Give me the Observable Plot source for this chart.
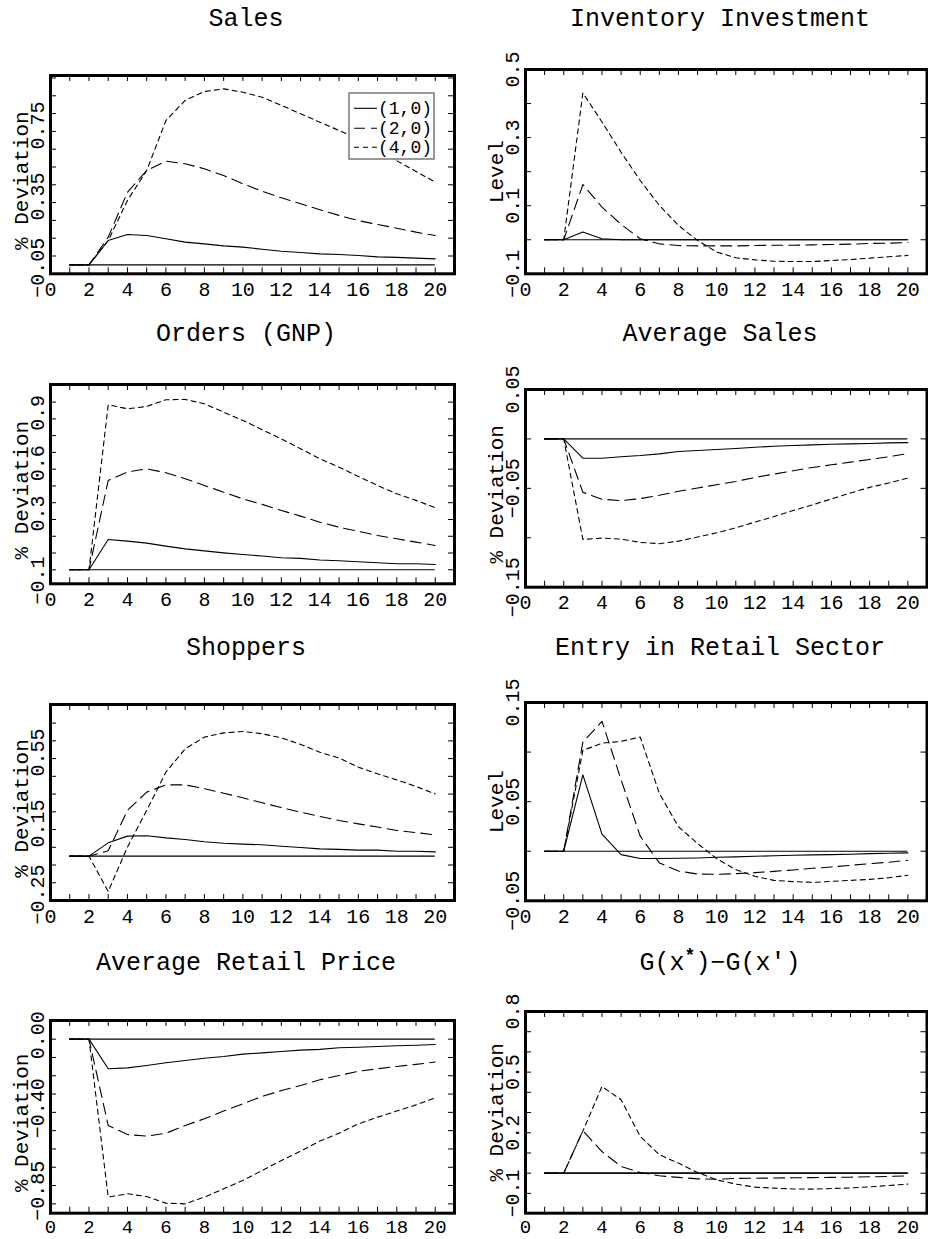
<!DOCTYPE html>
<html><head><meta charset="utf-8">
<script src="https://cdn.jsdelivr.net/npm/d3@7"></script>
<script src="https://cdn.jsdelivr.net/npm/@observablehq/plot@0.6"></script>
<style>
html,body{margin:0;padding:0;background:#fff;}
#wrap{position:relative;width:928px;height:1239px;overflow:hidden;}
.panel{position:absolute;}
.panel svg{overflow:visible;}
#overlay{position:absolute;left:0;top:0;pointer-events:none;overflow:visible;}
</style></head><body><div id="wrap"></div>
<script>
// ---------- data ----------
const periods = [1,2,3,4,5,6,7,8,9,10,11,12,13,14,15,16,17,18,19,20];
const seriesNames = ["(1,0)", "(2,0)", "(4,0)"];

const sales_1_0 = [0,0,0.137,0.171,0.165,0.147,0.128,0.118,0.107,0.100,0.088,0.077,0.070,0.062,0.058,0.053,0.045,0.042,0.038,0.034];
const sales_2_0 = [0,0,0.156,0.408,0.530,0.583,0.568,0.540,0.502,0.456,0.414,0.377,0.343,0.310,0.278,0.249,0.227,0.206,0.184,0.165];
const sales_4_0 = [0,0,0.137,0.362,0.530,0.811,0.924,0.974,0.989,0.970,0.942,0.896,0.849,0.802,0.755,0.705,0.645,0.585,0.525,0.465];

const inv_1_0 = [0,0,0.023,0.003,0,0,0,0,0,0,0,0,0,0,0,0,0,0,0,0];
const inv_2_0 = [0,0,0.162,0.096,0.045,0.003,-0.012,-0.017,-0.018,-0.018,-0.018,-0.017,-0.016,-0.016,-0.015,-0.014,-0.013,-0.011,-0.010,-0.008];
const inv_4_0 = [0,0,0.431,0.346,0.257,0.174,0.101,0.042,-0.002,-0.036,-0.053,-0.059,-0.063,-0.064,-0.064,-0.061,-0.058,-0.054,-0.050,-0.046];

const orders_1_0 = [0,0,0.181,0.171,0.159,0.141,0.125,0.113,0.101,0.091,0.082,0.072,0.068,0.058,0.054,0.048,0.042,0.036,0.036,0.032];
const orders_2_0 = [0,0,0.533,0.583,0.602,0.579,0.543,0.503,0.463,0.423,0.390,0.354,0.320,0.284,0.254,0.229,0.205,0.185,0.165,0.145];
const orders_4_0 = [0,0,0.984,0.960,0.974,1.014,1.016,0.990,0.940,0.891,0.835,0.781,0.722,0.662,0.612,0.557,0.503,0.453,0.414,0.370];

const avgsales_1_0 = [0,0,-0.0195,-0.0195,-0.018,-0.0168,-0.0151,-0.0128,-0.0117,-0.0107,-0.0097,-0.0084,-0.0074,-0.0067,-0.006,-0.0054,-0.005,-0.0047,-0.004,-0.0037];
const avgsales_2_0 = [0,0,-0.054,-0.061,-0.0624,-0.0604,-0.057,-0.053,-0.0497,-0.0463,-0.043,-0.039,-0.0356,-0.0322,-0.0289,-0.0262,-0.0235,-0.0208,-0.0181,-0.0148];
const avgsales_4_0 = [0,0,-0.1017,-0.1003,-0.1013,-0.1047,-0.106,-0.1034,-0.0993,-0.095,-0.0899,-0.0842,-0.0785,-0.0725,-0.0668,-0.0607,-0.0547,-0.049,-0.0446,-0.0396];

const shoppers_1_0 = [0,0,0.075,0.113,0.115,0.103,0.094,0.081,0.073,0.068,0.064,0.056,0.049,0.041,0.038,0.034,0.034,0.028,0.028,0.024];
const shoppers_2_0 = [0,0,0.030,0.258,0.361,0.402,0.402,0.380,0.355,0.329,0.301,0.274,0.248,0.224,0.201,0.182,0.164,0.145,0.133,0.120];
const shoppers_4_0 = [0,0,-0.199,0.051,0.258,0.474,0.605,0.671,0.695,0.703,0.690,0.667,0.630,0.586,0.553,0.502,0.464,0.430,0.393,0.351];

const entry_1_0 = [0,0,0.077,0.0172,-0.0034,-0.0074,-0.0074,-0.0071,-0.0068,-0.0061,-0.0057,-0.0051,-0.0046,-0.004,-0.0037,-0.0034,-0.003,-0.0024,-0.002,-0.0017];
const entry_2_0 = [0,0,0.110,0.131,0.072,0.0152,-0.0118,-0.020,-0.023,-0.0233,-0.0226,-0.0216,-0.0203,-0.0189,-0.0172,-0.0159,-0.0142,-0.0125,-0.0111,-0.0091];
const entry_4_0 = [0,0,0.1017,0.109,0.1108,0.1152,0.0584,0.0247,0.0078,-0.0074,-0.0186,-0.0253,-0.0294,-0.0307,-0.0314,-0.0304,-0.0294,-0.0284,-0.0267,-0.0243];

const price_1_0 = [0,0,-0.162,-0.157,-0.144,-0.129,-0.117,-0.104,-0.095,-0.082,-0.075,-0.067,-0.060,-0.056,-0.047,-0.044,-0.040,-0.036,-0.033,-0.029];
const price_2_0 = [0,0,-0.472,-0.521,-0.530,-0.514,-0.472,-0.435,-0.393,-0.353,-0.313,-0.281,-0.253,-0.222,-0.199,-0.175,-0.162,-0.149,-0.138,-0.125];
const price_4_0 = [0,0,-0.863,-0.845,-0.860,-0.896,-0.900,-0.863,-0.818,-0.772,-0.718,-0.663,-0.612,-0.557,-0.514,-0.463,-0.426,-0.393,-0.359,-0.321];

const g_1_0 = [0,0,0,0,0,0,0,0,0,0,0,0,0,0,0,0,0,0,0,0];
const g_2_0 = [0,0,0.210,0.107,0.033,0.003,-0.013,-0.021,-0.028,-0.030,-0.026,-0.025,-0.024,-0.023,-0.022,-0.021,-0.020,-0.018,-0.016,-0.013];
const g_4_0 = [0,0,0.208,0.429,0.363,0.182,0.091,0.050,0.003,-0.033,-0.054,-0.069,-0.074,-0.078,-0.079,-0.076,-0.073,-0.068,-0.061,-0.054];

// axes
const xDomain = [0, 21];
const xMinorTicks = [1,2,3,4,5,6,7,8,9,10,11,12,13,14,15,16,17,18,19,20];
const xLabelVals = [0,2,4,6,8,10,12,14,16,18,20];
const xLabelTexts = ["0","2","4","6","8","10","12","14","16","18","20"];

const salesTicks = [-0.05,0.05,0.15,0.25,0.35,0.45,0.55,0.65,0.75,0.85,0.95,1.05];
const salesLabelVals = [-0.05,0.35,0.75];
const salesLabelTexts = ["−0.05","0.35","0.75"];

const invTicks = [0,0.1,0.2,0.3,0.4];
const invLabelVals = [-0.1,0.1,0.3,0.5];
const invLabelTexts = ["−0.1","0.1","0.3","0.5"];

const ordersTicks = [0,0.1,0.2,0.3,0.4,0.5,0.6,0.7,0.8,0.9,1.0];
const ordersLabelVals = [-0.1,0.3,0.6,0.9];
const ordersLabelTexts = ["−0.1","0.3","0.6","0.9"];

const avgsalesTicks = [-0.1,-0.05,0];
const avgsalesLabelVals = [-0.15,-0.05,0.05];
const avgsalesLabelTexts = ["−0.15","−0.05","0.05"];

const shoppersTicks = [-0.15,-0.05,0.05,0.15,0.25,0.35,0.45,0.55,0.65,0.75];
const shoppersLabelVals = [-0.25,0.15,0.55];
const shoppersLabelTexts = ["−0.25","0.15","0.55"];

const entryTicks = [0,0.05,0.1];
const entryLabelVals = [-0.05,0.05,0.15];
const entryLabelTexts = ["−0.05","0.05","0.15"];

const priceTicks = [0,-0.1,-0.2,-0.3,-0.4,-0.5,-0.6,-0.7,-0.8,-0.9];
const priceLabelVals = [-0.85,-0.40,0.00];
const priceLabelTexts = ["−0.85","−0.40","0.00"];

const gTicks = [-0.1,0,0.1,0.2,0.3,0.4,0.5,0.6,0.7];
const gLabelVals = [-0.1,0.2,0.5,0.8];
const gLabelTexts = ["−0.1","0.2","0.5","0.8"];

// ---------- layout / style ----------
const FONT = "Liberation Mono, Courier New, monospace";
const seriesDash = [null, "11,6", "5,4"];

const panels = [
  {title:"Sales", ylabel:"% Deviation", col:0, frame:[75,273.3], domain:[-0.05,1.064],
   series:[sales_1_0,sales_2_0,sales_4_0], ticks:salesTicks, lv:salesLabelVals, lt:salesLabelTexts, ldy:-6, tdy:6},
  {title:"Inventory Investment", ylabel:"Level", col:1, frame:[69,273.3], domain:[-0.1,0.5],
   series:[inv_1_0,inv_2_0,inv_4_0], ticks:invTicks, lv:invLabelVals, lt:invLabelTexts, ldy:0, tdy:0},
  {title:"Orders (GNP)", ylabel:"% Deviation", col:0, frame:[384,583.3], domain:[-0.0835,1.105],
   series:[orders_1_0,orders_2_0,orders_4_0], ticks:ordersTicks, lv:ordersLabelVals, lt:ordersLabelTexts, ldy:-6, tdy:6},
  {title:"Average Sales", ylabel:"% Deviation", col:1, frame:[389,586.7], domain:[-0.15,0.05],
   series:[avgsales_1_0,avgsales_2_0,avgsales_4_0], ticks:avgsalesTicks, lv:avgsalesLabelVals, lt:avgsalesLabelTexts, ldy:0, tdy:6},
  {title:"Shoppers", ylabel:"% Deviation", col:0, frame:[704,900], domain:[-0.25,0.855],
   series:[shoppers_1_0,shoppers_2_0,shoppers_4_0], ticks:shoppersTicks, lv:shoppersLabelVals, lt:shoppersLabelTexts, ldy:-6, tdy:6},
  {title:"Entry in Retail Sector", ylabel:"Level", col:1, frame:[701.7,900], domain:[-0.05,0.15],
   series:[entry_1_0,entry_2_0,entry_4_0], ticks:entryTicks, lv:entryLabelVals, lt:entryLabelTexts, ldy:0, tdy:0},
  {title:"Average Retail Price", ylabel:"% Deviation", col:0, frame:[1020,1212.7], domain:[-0.951,0.102],
   series:[price_1_0,price_2_0,price_4_0], ticks:priceTicks, lv:priceLabelVals, lt:priceLabelTexts, ldy:-4, tdy:6},
  {title:"G", ylabel:"% Deviation", col:1, frame:[1011,1212.7], domain:[-0.198,0.8],
   series:[g_1_0,g_2_0,g_4_0], ticks:gTicks, lv:gLabelVals, lt:gLabelTexts, ldy:0, tdy:0}
];

const wrap = document.getElementById("wrap");
const W = 464, mT = 24;

panels.forEach((p, k) => {
  const left = p.col === 0 ? 0 : 464;
  const mL = p.col === 0 ? 50 : 61;
  const mR = p.col === 0 ? 10 : 1.5;
  const lastRow = k >= 6;
  const mB = lastRow ? 26 : 38;
  const xdy = lastRow ? 6 : 8;
  const xfs = lastRow ? 19 : 20;
  const innerH = p.frame[1] - p.frame[0];
  const H = innerH + mT + mB;
  const innerW = W - mL - mR;
  const lines = p.series.map((vals, si) => Plot.line(vals, {
    x: (d, i) => periods[i], y: d => d,
    stroke: "#000", strokeWidth: 1.1,
    strokeDasharray: seriesDash[si] || undefined
  }));
  const chart = Plot.plot({
    width: W, height: H,
    marginLeft: mL, marginRight: mR, marginTop: mT, marginBottom: mB,
    x: {domain: xDomain, axis: null},
    y: {domain: p.domain, axis: null},
    style: {fontFamily: FONT, fontSize: "20px", background: "transparent", color: "#000"},
    marks: [
      Plot.ruleY([0], {x1: periods[0], x2: periods[periods.length - 1], stroke: "#000", strokeWidth: 1.1}),
      ...lines,
      Plot.tickY(p.ticks, {y: d => d, insetRight: innerW - 6, stroke: "#000", strokeWidth: 1}),
      Plot.tickY(p.ticks, {y: d => d, insetLeft: innerW - 6, stroke: "#000", strokeWidth: 1}),
      Plot.tickX(xMinorTicks, {x: d => d, insetTop: innerH - 6, stroke: "#000", strokeWidth: 1}),
      Plot.tickX(xMinorTicks, {x: d => d, insetBottom: innerH - 6, stroke: "#000", strokeWidth: 1}),
      Plot.frame({stroke: "#000", strokeWidth: 3}),
      Plot.text(p.lv, {y: d => d, text: (d, i) => p.lt[i], frameAnchor: "left", rotate: -90,
        textAnchor: "middle", lineAnchor: "bottom", dx: -7, dy: p.ldy, fontSize: 20, fill: "#000"}),
      Plot.text(xLabelVals, {x: d => d, text: (d, i) => xLabelTexts[i], frameAnchor: "bottom",
        lineAnchor: "top", dy: xdy, fontSize: xfs, fill: "#000"}),
      Plot.text([p.ylabel], {text: d => d, frameAnchor: "left", rotate: -90, textAnchor: "middle",
        lineAnchor: "bottom", dx: -23, dy: p.tdy, fontSize: 21, fill: "#000"})
    ]
  });
  const div = document.createElement("div");
  div.className = "panel";
  div.style.left = left + "px";
  div.style.top = (p.frame[0] - mT) + "px";
  div.appendChild(chart);
  wrap.appendChild(div);
});

// ---------- titles & legend overlay ----------
const ov = d3.select(wrap).append("svg").attr("id", "overlay")
  .attr("width", 928).attr("height", 1239)
  .style("font-family", FONT);
const rowBase = [26, 341, 655, 970];
const colCenter = [246, 720];
panels.forEach((p, k) => {
  const t = ov.append("text")
    .attr("x", colCenter[p.col]).attr("y", rowBase[Math.floor(k / 2)])
    .attr("text-anchor", "middle").attr("font-size", 25).attr("fill", "#000");
  if (p.title === "G") {
    t.append("tspan").text("G(x");
    t.append("tspan").text("*").attr("dy", -9).attr("font-size", 18).attr("font-weight", "bold");
    t.append("tspan").text(")−G(x′)").attr("dy", 9);
  } else {
    t.text(p.title);
  }
});

// legend in Sales panel
const lg = ov.append("g");
lg.append("rect").attr("x", 349).attr("y", 93).attr("width", 85).attr("height", 66)
  .attr("fill", "#fff").attr("stroke", "#777").attr("stroke-width", 1.5);
const legY = [108.3, 128.3, 147.3];
seriesNames.forEach((name, i) => {
  lg.append("line").attr("x1", 354).attr("x2", 377).attr("y1", legY[i]).attr("y2", legY[i])
    .attr("stroke", "#000").attr("stroke-width", 1.1)
    .attr("stroke-dasharray", seriesDash[i] || null);
  lg.append("text").attr("x", 378).attr("y", legY[i] + 6).attr("font-size", 18)
    .attr("fill", "#000").text(name);
});
</script></body></html>
